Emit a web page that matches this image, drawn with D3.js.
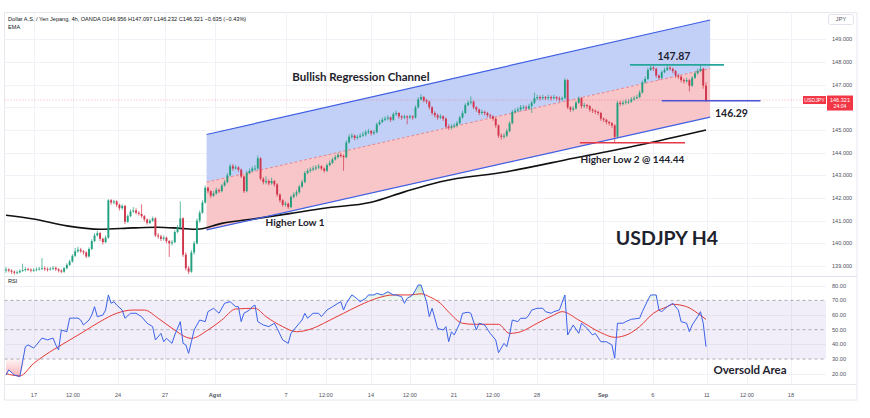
<!DOCTYPE html>
<html><head><meta charset="utf-8">
<script src="https://cdn.jsdelivr.net/npm/d3@7"></script>
<style>body{margin:0;background:#fff}svg{display:block}</style>
</head><body><svg id="c" width="870" height="418"></svg>
<script>
// ---------- DATA ----------
const firstOpen = 138.80;
const closes = [
138.85,138.80,138.75,138.70,138.72,138.78,138.82,138.86,138.84,138.80,
138.82,138.85,138.88,138.90,138.86,138.84,138.88,138.92,138.86,138.80,
138.75,138.90,139.05,139.20,139.45,139.65,139.72,139.65,139.60,139.42,
139.75,140.10,140.35,140.45,140.20,140.05,140.25,141.90,141.80,141.85,
141.70,141.55,141.65,140.95,141.20,141.40,141.45,141.35,141.30,141.20,
141.05,140.90,141.00,141.10,140.35,140.30,140.20,140.25,140.10,140.00,
140.05,140.50,140.70,141.10,139.50,138.90,138.75,139.60,140.00,141.00,
141.35,141.80,142.45,142.30,142.10,142.20,142.35,142.30,142.55,142.70,
143.00,143.40,143.30,143.35,143.25,142.95,142.30,143.10,143.20,143.30,
143.30,143.75,142.85,142.70,142.75,142.65,142.75,142.60,142.15,141.90,
141.70,141.75,141.60,142.05,142.15,142.25,142.50,142.70,143.10,143.20,
143.25,143.30,143.35,143.40,143.30,143.20,143.45,143.55,143.70,143.80,
143.90,143.85,143.80,144.45,144.70,144.75,144.65,144.70,144.75,144.80,
144.90,144.95,144.85,144.90,145.25,145.35,145.45,145.50,145.55,145.45,
145.70,145.75,145.60,145.55,145.60,145.55,145.60,145.55,146.00,146.35,
146.45,146.30,146.25,146.00,145.75,145.65,145.55,145.60,145.50,145.15,
145.10,145.15,145.20,145.30,145.55,145.75,146.10,146.20,146.25,146.00,
145.90,145.75,145.80,145.75,145.65,145.60,145.50,145.20,144.75,144.70,
144.75,144.95,145.30,145.80,145.85,145.90,146.00,146.00,145.95,146.05,
146.20,146.40,146.45,146.40,146.45,146.40,146.45,146.40,146.45,146.40,
146.35,146.40,147.20,146.00,145.90,145.95,146.20,146.40,146.05,146.10,
146.05,145.90,145.85,145.80,145.75,145.50,145.45,145.35,145.30,145.20,
144.70,146.20,146.15,146.20,146.25,146.25,146.35,146.40,146.45,146.65,
147.10,147.25,147.65,147.75,147.70,147.40,147.30,147.55,147.65,147.75,
147.70,147.60,147.40,147.35,147.20,147.15,147.20,146.95,147.30,147.50,
147.60,147.70,146.956,146.321];
const highs = [
138.95,138.90,138.85,138.80,138.80,138.86,139.10,138.95,138.92,138.90,
138.90,138.94,138.96,139.35,138.98,138.94,138.95,139.00,138.98,138.90,
138.85,138.96,139.12,139.28,139.52,139.80,139.85,139.80,139.70,139.65,
139.82,140.18,140.45,140.55,140.50,140.25,140.35,141.95,141.95,141.92,
141.90,141.75,141.72,141.70,141.28,141.50,141.60,141.55,141.42,141.72,
141.25,141.10,141.08,141.18,141.15,140.45,140.38,140.35,140.30,140.15,
140.15,140.58,140.80,141.85,141.15,139.60,139.00,139.70,140.10,141.10,
141.45,141.90,142.55,142.50,142.35,142.30,142.45,142.42,142.62,142.80,
143.10,143.50,143.50,143.45,143.40,143.30,143.00,143.20,143.30,143.40,
143.45,143.88,143.80,142.92,142.95,142.82,142.90,142.80,142.65,142.20,
141.95,141.85,141.80,142.12,142.25,142.35,142.58,142.80,143.18,143.30,
143.35,143.42,143.45,143.50,143.45,143.35,143.52,143.65,143.78,143.90,
144.00,143.98,143.92,144.55,144.80,144.85,144.80,144.78,144.85,144.92,
145.00,145.05,145.00,145.00,145.32,145.45,145.55,145.60,145.65,145.60,
145.78,145.85,145.78,145.65,145.68,145.65,145.68,145.65,146.08,146.45,
146.58,146.50,146.38,146.30,146.05,145.82,145.72,145.70,145.65,145.55,
145.25,145.25,145.30,145.40,145.62,145.85,146.18,146.30,146.48,146.30,
146.05,145.95,145.90,145.85,145.80,145.72,145.65,145.55,145.25,144.85,
144.85,145.05,145.38,145.88,145.95,146.00,146.10,146.10,146.08,146.15,
146.28,146.65,146.55,146.52,146.55,146.50,146.55,146.52,146.55,146.50,
146.48,146.48,147.28,147.25,146.05,146.05,146.28,146.48,146.45,146.20,
146.15,146.10,145.95,145.90,145.85,145.80,145.55,145.50,145.40,145.35,
145.25,146.28,146.28,146.30,146.35,146.35,146.45,146.50,146.55,146.75,
147.18,147.35,147.75,147.85,147.82,147.75,147.45,147.62,147.75,147.87,
147.82,147.75,147.65,147.48,147.40,147.28,147.30,147.25,147.38,147.58,
147.70,147.87,147.75,147.097];
const lows = [
138.70,138.72,138.65,138.62,138.64,138.68,138.74,138.76,138.78,138.72,
138.74,138.76,138.80,138.82,138.78,138.76,138.80,138.82,138.78,138.72,
138.68,138.70,138.85,139.00,139.15,139.40,139.58,139.58,139.50,139.35,
139.38,139.70,140.05,140.30,140.10,139.95,140.00,140.20,141.70,141.72,
141.60,141.45,141.48,140.85,140.90,141.15,141.35,141.28,141.22,141.12,
140.95,140.82,140.85,140.95,140.28,140.20,140.10,140.12,140.00,139.40,
139.90,140.00,140.45,140.65,139.40,138.80,138.65,138.70,139.50,139.95,
140.90,141.30,141.75,142.20,142.00,142.05,142.15,142.22,142.25,142.50,
142.65,142.95,143.20,143.25,143.15,142.88,142.22,142.25,143.05,143.15,
143.20,143.25,142.78,142.60,142.60,142.55,142.58,142.50,142.05,141.80,
141.62,141.62,141.52,141.55,141.98,142.05,142.20,142.45,142.65,143.05,
143.12,143.18,143.22,143.28,143.22,143.12,143.15,143.40,143.50,143.65,
143.75,143.78,143.20,143.75,144.40,144.62,144.55,144.58,144.65,144.70,
144.72,144.82,144.75,144.78,144.85,145.20,145.30,145.38,145.42,145.35,
145.40,145.62,145.50,145.45,145.48,145.25,145.48,145.45,145.50,145.95,
146.30,146.22,146.15,145.90,145.65,145.55,145.45,145.48,145.40,145.05,
145.00,145.02,145.08,145.12,145.25,145.50,145.70,146.05,146.12,145.92,
145.80,145.65,145.68,145.65,145.55,145.50,145.40,145.10,144.65,144.58,
144.62,144.68,144.90,145.25,145.72,145.78,145.85,145.90,145.85,145.90,
145.75,146.15,146.32,146.30,146.33,146.32,146.33,146.30,146.35,146.30,
146.25,146.28,146.35,145.92,145.80,145.82,145.90,146.15,145.95,145.98,
145.95,145.80,145.75,145.70,145.65,145.40,145.35,145.25,145.20,145.10,
144.44,144.65,146.05,146.08,146.12,146.15,146.20,146.30,146.35,146.40,
146.60,147.05,147.20,147.60,147.60,147.30,147.20,147.25,147.50,147.60,
147.62,147.50,147.30,147.25,147.10,147.05,147.08,146.70,146.90,147.25,
147.45,147.55,146.82,146.232];

const emaIdx = [0,10,22,34,46,55,63,69,78,91,103,115,132,144,157,181,205,229,253];
const emaVal = [141.24,141.07,140.77,140.62,140.68,140.71,140.66,140.62,140.88,141.10,141.32,141.55,141.81,142.27,142.72,143.16,143.75,144.34,145.00];

const channelIdx = [72.5, 254.5];
const channelUpper = [144.80, 149.85];
const channelMid = [142.70, 147.71];
const channelLower = [140.59, 145.57];

const rsiIdx = [0,1,3,5,7,8,10,11,13,15,17,18,19,20,22,23,25,26,27,28,30,31,32,33,35,36,37,38,39,40,42,43,45,47,49,51,53,54,56,57,58,60,61,63,64,65,66,67,68,70,72,73,75,77,79,81,83,84,85,86,88,89,90,91,93,95,97,98,100,102,103,104,106,107,108,109,111,113,114,116,118,120,121,122,123,125,126,128,130,131,133,134,136,138,140,141,143,144,145,147,149,150,152,153,154,156,158,159,160,161,162,164,165,167,168,170,171,173,175,177,178,180,181,182,183,185,186,188,189,190,192,194,195,197,198,200,202,203,204,205,207,208,210,212,213,215,217,219,220,221,223,224,226,229,230,232,233,235,236,237,239,241,243,244,246,247,248,250,251,252,253];
const rsiVal = [19.1,22.6,19.1,18.0,38.4,39.6,37.5,39.6,44.3,43,44.3,39.6,36.2,49.8,48.6,57.9,57.9,57.9,56.6,53.2,56.6,60,65.7,58.9,60,63.4,73.7,68,69.1,66.8,63.4,57.8,61.2,61.2,58.9,54.4,52.1,43,47.5,41.8,44.1,40.7,46.4,55.5,40.7,39.6,33.9,41.8,49.8,56.6,55.5,62.3,64.6,61.2,68,69.1,65.7,65.7,55.5,61.2,63.4,65.7,66.8,55.5,53.2,52.1,54.4,50.9,43,40.7,47.5,49.8,54.4,56.6,61.2,57.8,61.2,61.2,58.9,63.4,65.7,68,69.1,63.4,68,73.7,72.5,69.1,71.4,73.7,73.7,74.8,73.7,75.9,73.7,73.7,72.5,68,71.4,73.7,80.5,80.5,69.1,58.9,64.6,50.9,49.8,52.1,41.8,48.6,46.4,54.4,61.2,61.9,61.2,49.8,54.4,53.2,47.5,43,34.3,40.7,38.4,46.4,56.6,55.5,57.8,57.8,60,63.4,64.6,64.6,62.3,61.2,62.3,63.4,73.7,46.4,49.8,53.2,47.5,54.4,50.9,46.4,47.5,41.8,41.8,39.6,30.5,54.4,54.4,55.5,57.1,57.8,62.3,70.3,73.7,73.7,63.4,62.3,65.7,68,63.4,55.5,54.4,48.6,53.2,58.9,62.3,54.4,38.4];

const rsiMaIdx = [0,5,10,16,22,28,34,40,46,50,55,60,67,73,78,83,90,94,100,105,111,116,122,128,134,140,146,150,153,157,160,165,169,178,182,186,192,198,201,207,215,220,225,229,234,239,241,246,250,253];
const rsiMaVal = [20,18.5,27,35,41.8,48.6,55.5,61.2,63.4,63.4,57.8,51,44.1,49.8,56.6,64.1,64.6,58.9,52.1,48.6,51,55.5,61.2,66.8,71.4,73.7,73.7,74.5,72.5,68,62,54.4,53.7,53.7,47.5,48.6,54.4,60,62.3,56.6,48,44.8,47,52.1,61.2,65.7,67.3,65.7,61.2,57];

const priceTicks = [139,140,141,142,143,144,145,147,148,149];
const rsiTicks = [20,30,40,50,60,70,80];
const timeLabels = ["17","12:00","24","27","Agst","7","12:00","14","12:00","21","12:00","28","Sep","6","11","12:00","18"];
const timeIdx = [10.1,24.2,40.5,57.5,75.5,101.2,115.6,131.9,146,161.9,176,191.9,215.8,233.8,253.3,267.8,283.7];

const lastPrice = 146.321;
const resistance = 147.87, resistIdx = [225.5, 259.5];
const support = 146.29, supportIdx = [237, 272.7];
const higherLow2 = 144.44, hl2Idx = [207.4, 245.4];
const header = "Dollar A.S. / Yen Jepang, 4h, OANDA  O146.956  H147.097  L146.232  C146.321  \u22120.635 (\u22120.43%)";

// ---------- SCALES ----------
const svg = d3.select("#c");
const x = d3.scaleLinear().domain([0, 253]).range([6, 706]);
const yP = d3.scaleLinear().domain([139, 149]).range([266, 39.3]);
const yR = d3.scaleLinear().domain([20, 80]).range([373.7, 285.7]);
const PL = 4.5, PR = 826, PT = 12.5, PB = 276, RB = 384;

const defs = svg.append("defs");
defs.append("clipPath").attr("id","pclip").append("rect").attr("x",PL).attr("y",PT).attr("width",PR-PL).attr("height",PB-PT);
defs.append("clipPath").attr("id","rclip").append("rect").attr("x",PL).attr("y",PB).attr("width",PR-PL).attr("height",RB-PB);
const gG = defs.append("linearGradient").attr("id","gOB").attr("x1",0).attr("y1",1).attr("x2",0).attr("y2",0).attr("gradientUnits","userSpaceOnUse");
gG.attr("y1", yR(70)).attr("y2", yR(90));
gG.append("stop").attr("offset",0).attr("stop-color","#4caf50").attr("stop-opacity",0.05);
gG.append("stop").attr("offset",1).attr("stop-color","#4caf50").attr("stop-opacity",0.6);
const gR = defs.append("linearGradient").attr("id","gOS").attr("gradientUnits","userSpaceOnUse").attr("x1",0).attr("x2",0).attr("y1", yR(30)).attr("y2", yR(10));
gR.append("stop").attr("offset",0).attr("stop-color","#f23645").attr("stop-opacity",0.05);
gR.append("stop").attr("offset",1).attr("stop-color","#f23645").attr("stop-opacity",0.6);

// frame
svg.append("rect").attr("x",PL).attr("y",PT).attr("width",857-PL).attr("height",400-PT).attr("fill","none").attr("stroke","#e6e8ee").attr("stroke-width",1);

// grid
const grid = svg.append("g").attr("stroke","#f0f2f7").attr("stroke-width",1);
priceTicks.forEach(t => grid.append("line").attr("x1",PL).attr("x2",PR).attr("y1",Math.round(yP(t))+0.5).attr("y2",Math.round(yP(t))+0.5));
grid.append("line").attr("x1",PL).attr("x2",PR).attr("y1",Math.round(yP(146))+0.5).attr("y2",Math.round(yP(146))+0.5);
[20,40,60,80].forEach(t => grid.append("line").attr("x1",PL).attr("x2",PR).attr("y1",Math.round(yR(t))+0.5).attr("y2",Math.round(yR(t))+0.5));
timeIdx.forEach(t => { const xx = Math.round(x(t))+0.5; if (xx < PR) grid.append("line").attr("x1",xx).attr("x2",xx).attr("y1",PT).attr("y2",RB); });

// pane dividers
svg.append("line").attr("x1",PL).attr("x2",857).attr("y1",PB+0.5).attr("y2",PB+0.5).attr("stroke","#e0e3eb");
svg.append("line").attr("x1",PL).attr("x2",857).attr("y1",RB+0.5).attr("y2",RB+0.5).attr("stroke","#e6e8ee");

// ---------- PRICE PANE ----------
const pg = svg.append("g").attr("clip-path","url(#pclip)");
const chan = channelIdx.map((c,k)=>({i:c,u:channelUpper[k],m:channelMid[k],l:channelLower[k]}));
pg.append("path").datum(chan).attr("fill","#bfcdf8").attr("opacity",0.95)
  .attr("d", d3.area().x(d=>x(d.i)).y0(d=>yP(d.m)).y1(d=>yP(d.u)));
pg.append("path").datum(chan).attr("fill","#f8c5c9")
  .attr("d", d3.area().x(d=>x(d.i)).y0(d=>yP(d.l)).y1(d=>yP(d.m)));

// current price dotted line
pg.append("line").attr("x1",PL).attr("x2",PR).attr("y1",yP(lastPrice)).attr("y2",yP(lastPrice))
  .attr("stroke","#f23645").attr("stroke-opacity",0.5).attr("stroke-width",0.8).attr("stroke-dasharray","1,2");

// middle dashed line
pg.append("path").datum(chan).attr("fill","none").attr("stroke","#e57373").attr("stroke-width",0.8).attr("stroke-dasharray","3,2")
  .attr("d", d3.line().x(d=>x(d.i)).y(d=>yP(d.m)));

// EMA
const ema = emaIdx.map((e,k)=>({i:e,v:emaVal[k]}));
pg.append("path").datum(ema).attr("fill","none").attr("stroke","#111").attr("stroke-width",1.6)
  .attr("d", d3.line().curve(d3.curveMonotoneX).x(d=>x(d.i)).y(d=>yP(d.v)));

// candles
const candles = closes.map((c,i)=>({i, o: i ? closes[i-1] : firstOpen, h: highs[i], l: lows[i], c}));
const up = "#22a07f", dn = "#d0364b";
const cg = pg.append("g");
cg.selectAll("line").data(candles).join("line")
  .attr("x1", d=>x(d.i)).attr("x2", d=>x(d.i))
  .attr("y1", d=>yP(d.h)).attr("y2", d=>yP(d.l))
  .attr("stroke", d=> d.c>=d.o ? up : dn).attr("stroke-width",0.7);
cg.selectAll("rect").data(candles).join("rect")
  .attr("x", d=>x(d.i)-0.95).attr("width",1.9)
  .attr("y", d=>Math.min(yP(d.o),yP(d.c)))
  .attr("height", d=>Math.max(0.8, Math.abs(yP(d.o)-yP(d.c))))
  .attr("fill", d=> d.c>=d.o ? up : dn);

// channel borders
const bl = d3.line().x(d=>x(d.i));
pg.append("path").datum(chan).attr("fill","none").attr("stroke","#3f5fe3").attr("stroke-width",1.2)
  .attr("d", bl.y(d=>yP(d.u)));
pg.append("path").datum(chan).attr("fill","none").attr("stroke","#3f5fe3").attr("stroke-width",1.2)
  .attr("d", d3.line().x(d=>x(d.i)).y(d=>yP(d.l)));

// levels
pg.append("line").attr("x1",x(resistIdx[0])).attr("x2",x(resistIdx[1])).attr("y1",yP(resistance)).attr("y2",yP(resistance))
  .attr("stroke","#26a69a").attr("stroke-width",1.6);
pg.append("line").attr("x1",x(supportIdx[0])).attr("x2",x(supportIdx[1])).attr("y1",yP(support)).attr("y2",yP(support))
  .attr("stroke","#4a52d6").attr("stroke-width",1.6);
pg.append("line").attr("x1",x(hl2Idx[0])).attr("x2",x(hl2Idx[1])).attr("y1",yP(higherLow2)).attr("y2",yP(higherLow2))
  .attr("stroke","#e53946").attr("stroke-width",1.6);

// annotations
const ann = svg.append("g").attr("font-family","Lato, 'Open Sans', sans-serif").attr("font-weight",700).attr("fill","#1e222d");
ann.append("text").attr("x",x(128.3)).attr("y",yP(147.34)).attr("dy","0.35em").attr("text-anchor","middle").attr("font-size",11.5).text("Bullish Regression Channel");
ann.append("text").attr("x",x(104.5)).attr("y",yP(140.94)).attr("dy","0.35em").attr("text-anchor","middle").attr("font-size",10).text("Higher Low 1");
ann.append("text").attr("x",x(226.4)).attr("y",yP(higherLow2)+17).attr("dy","0.35em").attr("text-anchor","middle").attr("font-size",10).text("Higher Low 2 @ 144.44");
ann.append("text").attr("x",x(241.4)).attr("y",yP(resistance)-8.5).attr("dy","0.35em").attr("text-anchor","middle").attr("font-size",10.5).text("147.87");
ann.append("text").attr("x",715).attr("y",yP(support)+12.5).attr("dy","0.35em").attr("font-size",10.5).text("146.29");
ann.append("text").attr("x",x(238.9)).attr("y",yP(140.23)).attr("dy","0.35em").attr("text-anchor","middle").attr("font-size",19.5).text("USDJPY H4");
ann.append("text").attr("x",750).attr("y",yR(22.6)).attr("dy","0.35em").attr("text-anchor","middle").attr("font-size",11.5).text("Oversold Area");

// header
const hf = "'Liberation Sans', Arial, sans-serif";
svg.append("text").attr("x",8).attr("y",21).attr("font-family",hf).attr("font-size",5.6).attr("fill","#131722").text(header);
svg.append("text").attr("x",8).attr("y",29).attr("font-family",hf).attr("font-size",5.6).attr("fill","#131722").text("EMA");
svg.append("text").attr("x",8).attr("y",283).attr("font-family",hf).attr("font-size",5.6).attr("fill","#131722").text("RSI");

// ---------- RSI PANE ----------
const rg = svg.append("g").attr("clip-path","url(#rclip)");
rg.append("rect").attr("x",PL).attr("width",PR-PL).attr("y",yR(70)).attr("height",yR(30)-yR(70)).attr("fill","#7e57c2").attr("fill-opacity",0.1);
[70,50,30].forEach(t => rg.append("line").attr("x1",PL).attr("x2",PR).attr("y1",yR(t)).attr("y2",yR(t))
  .attr("stroke","#9598a1").attr("stroke-width",0.8).attr("stroke-dasharray","3,3"));
const rsi = rsiIdx.map((r,k)=>({i:r,v:rsiVal[k]}));
rg.append("path").datum(rsi).attr("fill","url(#gOB)")
  .attr("d", d3.area().x(d=>x(d.i)).y0(yR(70)).y1(d=>yR(Math.max(70,d.v))));
rg.append("path").datum(rsi).attr("fill","url(#gOS)")
  .attr("d", d3.area().x(d=>x(d.i)).y0(yR(30)).y1(d=>yR(Math.min(30,d.v))));
const rma = rsiMaIdx.map((r,k)=>({i:r,v:rsiMaVal[k]}));
rg.append("path").datum(rma).attr("fill","none").attr("stroke","#e53935").attr("stroke-width",1)
  .attr("d", d3.line().curve(d3.curveMonotoneX).x(d=>x(d.i)).y(d=>yR(d.v)));
rg.append("path").datum(rsi).attr("fill","none").attr("stroke","#3a62e8").attr("stroke-width",1)
  .attr("d", d3.line().x(d=>x(d.i)).y(d=>yR(d.v)));

// ---------- AXES ----------
const af = svg.append("g").attr("font-family",hf).attr("font-size",5.6).attr("fill","#50535e");
priceTicks.forEach(t => af.append("text").attr("x",832).attr("y",yP(t)).attr("dy","0.35em").text(t.toFixed(3)));
rsiTicks.forEach(t => af.append("text").attr("x",832).attr("y",yR(t)).attr("dy","0.35em").text(t.toFixed(2)));
timeLabels.forEach((lab,k) => af.append("text").attr("x",x(timeIdx[k])).attr("y",395).attr("dy","0.35em")
  .attr("text-anchor","middle").attr("font-weight", (lab==="Agst"||lab==="Sep")?700:400).text(lab));

// JPY box
svg.append("rect").attr("x",828.5).attr("y",14.5).attr("width",25).attr("height",10).attr("rx",2).attr("fill","#fff").attr("stroke","#e0e3eb");
svg.append("text").attr("x",841).attr("y",19.5).attr("dy","0.35em").attr("text-anchor","middle").attr("font-family",hf).attr("font-size",5.6).attr("fill","#50535e").text("JPY");

// last price labels
const yl = yP(lastPrice);
svg.append("rect").attr("x",803).attr("y",yl-4).attr("width",23).attr("height",8).attr("fill","#f23645");
svg.append("text").attr("x",814.5).attr("y",yl).attr("dy","0.35em").attr("text-anchor","middle").attr("font-family",hf).attr("font-size",5.2).attr("fill","#fff").text("USDJPY");
svg.append("rect").attr("x",827).attr("y",yl-4.5).attr("width",26).attr("height",15).attr("fill","#f23645");
svg.append("text").attr("x",840).attr("y",yl).attr("dy","0.35em").attr("text-anchor","middle").attr("font-family",hf).attr("font-size",5.6).attr("fill","#fff").text(lastPrice.toFixed(3));
svg.append("text").attr("x",840).attr("y",yl+6.5).attr("dy","0.35em").attr("text-anchor","middle").attr("font-family",hf).attr("font-size",5.2).attr("fill","#fff").text("24:04");
</script></body></html>
